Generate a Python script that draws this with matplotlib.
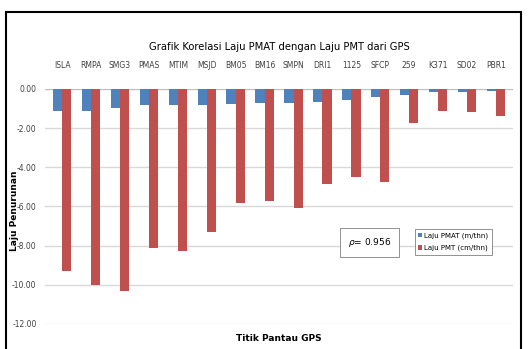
#import necessary libraries
import numpy as np
import matplotlib.pyplot as plt
from matplotlib.patches import Rectangle

# data
stations = ['ISLA', 'RMPA', 'SMG3', 'PMAS', 'MTIM', 'MSJD', 'BM05', 'BM16',
            'SMPN', 'DRI1', '1125', 'SFCP', '259', 'K371', 'SD02', 'PBR1']
laju_pmat = [-1.10, -1.10, -0.95, -0.80, -0.80, -0.80, -0.75, -0.70,
             -0.70, -0.65, -0.55, -0.40, -0.30, -0.15, -0.15, -0.10]  # m/thn
laju_pmt = [-9.3, -10.0, -10.3, -8.1, -8.3, -7.3, -5.8, -5.7,
            -6.1, -4.85, -4.5, -4.75, -1.75, -1.1, -1.15, -1.4]  # cm/thn
y_ticks = [0, -2, -4, -6, -8, -10, -12]

font = ['Liberation Sans Narrow', 'DejaVu Sans']
plt.rcParams['font.family'] = font

fig = plt.figure(figsize=(5.28, 3.49), dpi=100)
ax = fig.add_axes([0.085, 0.072, 0.887, 0.673])

x = np.arange(len(stations))
w = 0.32
ax.bar(x - w/2, laju_pmat, w, color='#4F81BD', label='Laju PMAT (m/thn)', zorder=3)
ax.bar(x + w/2, laju_pmt, w, color='#C0504D', label='Laju PMT (cm/thn)', zorder=3)

ax.set_xlim(-0.6, len(stations) - 0.4)
ax.set_ylim(-12, 0)
ax.set_yticks(y_ticks)
ax.set_yticklabels(['%.2f' % v for v in y_ticks], fontsize=5.5, color='#404040')
ax.xaxis.tick_top()
ax.set_xticks(x)
ax.set_xticklabels(stations, fontsize=5.5, color='#404040')
ax.tick_params(axis='x', length=0, pad=14)
ax.tick_params(axis='y', length=0, pad=6)
ax.grid(axis='y', color='#D9D9D9', linewidth=1, zorder=0)
for s in ['top', 'right', 'bottom', 'left']:
    ax.spines[s].set_visible(False)
ax.axhline(0, color='#BFBFBF', linewidth=0.8, zorder=2)

ax.set_title('Grafik Korelasi Laju PMAT dengan Laju PMT dari GPS', fontsize=7.2, pad=28)
ax.set_ylabel('Laju Penurunan', fontsize=6.5, fontweight='bold')
ax.yaxis.set_label_coords(-0.056, 0.48)
ax.set_xlabel('Titik Pantau GPS', fontsize=6.5, fontweight='bold')
ax.xaxis.set_label_coords(0.5, -0.045)

leg = ax.legend(loc='upper left', bbox_to_anchor=(0.782, 0.42), fontsize=5,
                handlelength=0.6, handleheight=0.6, handletextpad=0.3,
                borderpad=0.5, labelspacing=0.9, fancybox=False, framealpha=1)
leg.get_frame().set_edgecolor('#808080')
leg.get_frame().set_linewidth(0.6)

ax.text(0.647, 0.345, r'$\rho$= 0.956', transform=ax.transAxes, fontsize=6.5,
        ha='left', va='center',
        bbox=dict(boxstyle='square,pad=0.9', fc='white', ec='#808080', lw=0.6), zorder=5)

# outer frame
fig.patches.append(Rectangle((0.012, -0.01), 0.975, 0.975, transform=fig.transFigure,
                             fill=False, ec='black', lw=1.5))

plt.savefig('out.png', dpi=100)
